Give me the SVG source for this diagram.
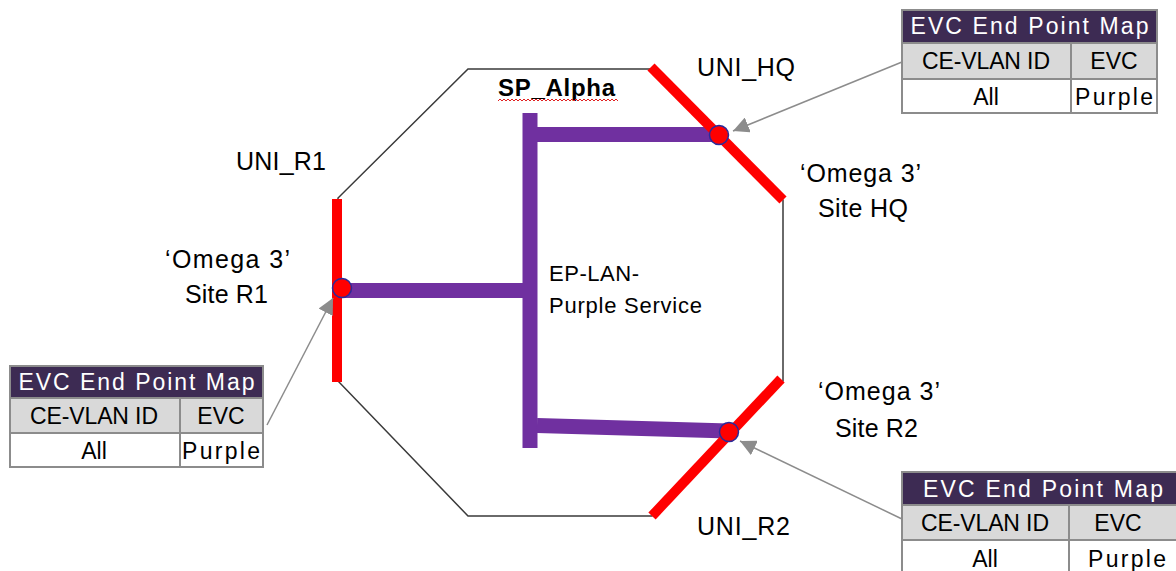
<svg xmlns="http://www.w3.org/2000/svg" width="1176" height="571" viewBox="0 0 1176 571">
<defs>
<style>
.t{font-family:"Liberation Sans","Open Sans",sans-serif;fill:#000}
.lbl{font-size:25px}
.tbl{font-size:23px}
.hdr{font-size:23px;fill:#fff}
.red{stroke:#ff0000;stroke-width:10;fill:none}
.pur{stroke:#7030a0;stroke-width:15;fill:none}
.dot{fill:#ff0000;stroke:#2a2a9a;stroke-width:1.5}
.arr{stroke:#8c8c8c;stroke-width:1.5;fill:none}
.cell{stroke:#8c8c8c;stroke-width:2}
</style>
<marker id="ah2" viewBox="0 0 10 10" refX="10" refY="5" markerWidth="16" markerHeight="16" markerUnits="userSpaceOnUse" orient="auto">
<path d="M0,0 L10,5 L0,10 z" fill="#8c8c8c"/>
</marker>
</defs>
<rect width="1176" height="571" fill="#fff"/>

<g id="sp_alpha">
<polygon points="468,69 652,69 783,200 783,381 652,516 468,516 338,381 338,198" fill="none" stroke="#3a3a3a" stroke-width="1.5"/>
<text class="t" x="498" y="96" font-size="24" font-weight="bold" textLength="117" lengthAdjust="spacing">SP_Alpha</text>
<path d="M498,101 l2,-2 l2,2 l2,-2 l2,2 l2,-2 l2,2 l2,-2 l2,2 l2,-2 l2,2 l2,-2 l2,2 l2,-2 l2,2 l2,-2 l2,2 l2,-2 l2,2 l2,-2 l2,2 l2,-2 l2,2 l2,-2 l2,2 l2,-2 l2,2 l2,-2 l2,2 l2,-2 l2,2 l2,-2 l2,2 l2,-2 l2,2 l2,-2 l2,2 l2,-2 l2,2 l2,-2 l2,2 l2,-2 l2,2 l2,-2 l2,2 l2,-2 l2,2 l2,-2 l2,2 l2,-2 l2,2 l2,-2 l2,2 l2,-2 l2,2 l2,-2 l2,2 l2,-2 l2,2 l2,-2 l2,2" fill="none" stroke="#e02020" stroke-width="1"/>
</g>

<g id="service">
<line class="pur" x1="530" y1="113" x2="530" y2="448"/>
<line class="pur" x1="537" y1="134.5" x2="719" y2="134.5"/>
<line class="pur" x1="342" y1="290.5" x2="523" y2="290.5"/>
<line class="pur" x1="537" y1="425.5" x2="729" y2="431"/>
<text class="t" x="549" y="281" font-size="22" textLength="90" lengthAdjust="spacing">EP-LAN-</text>
<text class="t" x="549" y="313" font-size="22" textLength="153" lengthAdjust="spacing">Purple Service</text>
</g>

<g id="uni_r1">
<line class="red" x1="337" y1="199" x2="337" y2="382"/>
<circle class="dot" cx="342" cy="288" r="9.5"/>
<text class="t lbl" x="236" y="170" textLength="90" lengthAdjust="spacing">UNI_R1</text>
<text class="t lbl" x="165" y="268" textLength="125" lengthAdjust="spacing">‘Omega 3’</text>
<text class="t lbl" x="185" y="303" textLength="83" lengthAdjust="spacing">Site R1</text>
</g>

<g id="uni_hq">
<line class="red" x1="651" y1="67" x2="783" y2="200"/>
<circle class="dot" cx="719" cy="135" r="9.5"/>
<text class="t lbl" x="697" y="76" textLength="98" lengthAdjust="spacing">UNI_HQ</text>
<text class="t lbl" x="800" y="182" textLength="121" lengthAdjust="spacing">‘Omega 3’</text>
<text class="t lbl" x="818" y="217" textLength="90" lengthAdjust="spacing">Site HQ</text>
</g>

<g id="uni_r2">
<line class="red" x1="781" y1="379" x2="652" y2="516"/>
<circle class="dot" cx="729" cy="432" r="9.5"/>
<text class="t lbl" x="697" y="535" textLength="93" lengthAdjust="spacing">UNI_R2</text>
<text class="t lbl" x="818" y="400" textLength="122" lengthAdjust="spacing">‘Omega 3’</text>
<text class="t lbl" x="835" y="437" textLength="83" lengthAdjust="spacing">Site R2</text>
</g>

<g id="map_hq">
<rect x="902" y="10" width="255" height="33" fill="#3d2b53"/>
<rect x="902" y="43" width="255" height="36" fill="#d9d9d9"/>
<rect x="902" y="79" width="255" height="34" fill="#fff"/>
<rect class="cell" x="902" y="10" width="255" height="103" fill="none"/>
<line class="cell" x1="902" y1="43" x2="1157" y2="43"/>
<line class="cell" x1="902" y1="79" x2="1157" y2="79"/>
<line class="cell" x1="1071" y1="43" x2="1071" y2="113"/>
<text class="t hdr" x="1029.5" y="34" text-anchor="middle" textLength="238" lengthAdjust="spacing">EVC End Point Map</text>
<text class="t tbl" x="986" y="69" text-anchor="middle" textLength="128" lengthAdjust="spacing">CE-VLAN ID</text>
<text class="t tbl" x="1114" y="69" text-anchor="middle">EVC</text>
<text class="t tbl" x="986" y="105" text-anchor="middle">All</text>
<text class="t tbl" x="1114" y="105" text-anchor="middle" textLength="78" lengthAdjust="spacing">Purple</text>
</g>

<g id="map_r1">
<rect x="10" y="366" width="253" height="32" fill="#3d2b53"/>
<rect x="10" y="398" width="253" height="35" fill="#d9d9d9"/>
<rect x="10" y="433" width="253" height="34" fill="#fff"/>
<rect class="cell" x="10" y="366" width="253" height="101" fill="none"/>
<line class="cell" x1="10" y1="398" x2="263" y2="398"/>
<line class="cell" x1="10" y1="433" x2="263" y2="433"/>
<line class="cell" x1="180" y1="398" x2="180" y2="467"/>
<text class="t hdr" x="136.5" y="390" text-anchor="middle" textLength="236" lengthAdjust="spacing">EVC End Point Map</text>
<text class="t tbl" x="94" y="424" text-anchor="middle" textLength="128" lengthAdjust="spacing">CE-VLAN ID</text>
<text class="t tbl" x="221" y="424" text-anchor="middle">EVC</text>
<text class="t tbl" x="94" y="459" text-anchor="middle">All</text>
<text class="t tbl" x="221" y="459" text-anchor="middle" textLength="78" lengthAdjust="spacing">Purple</text>
</g>

<g id="map_r2">
<rect x="902" y="472" width="280" height="33" fill="#3d2b53"/>
<rect x="902" y="505" width="280" height="35" fill="#d9d9d9"/>
<rect x="902" y="540" width="280" height="40" fill="#fff"/>
<rect class="cell" x="902" y="472" width="280" height="110" fill="none"/>
<line class="cell" x1="902" y1="505" x2="1182" y2="505"/>
<line class="cell" x1="902" y1="540" x2="1182" y2="540"/>
<line class="cell" x1="1069" y1="505" x2="1069" y2="582"/>
<text class="t hdr" x="1043" y="497" text-anchor="middle" textLength="240" lengthAdjust="spacing">EVC End Point Map</text>
<text class="t tbl" x="985" y="531" text-anchor="middle" textLength="128" lengthAdjust="spacing">CE-VLAN ID</text>
<text class="t tbl" x="1118" y="531" text-anchor="middle">EVC</text>
<text class="t tbl" x="985" y="567" text-anchor="middle">All</text>
<text class="t tbl" x="1127" y="567" text-anchor="middle" textLength="78" lengthAdjust="spacing">Purple</text>
</g>

<g id="connectors">
<line class="arr" x1="902" y1="62" x2="733" y2="131" marker-end="url(#ah2)"/>
<line class="arr" x1="267" y1="425" x2="333" y2="298" marker-end="url(#ah2)"/>
<line class="arr" x1="902" y1="519" x2="740" y2="441" marker-end="url(#ah2)"/>
</g>
</svg>
